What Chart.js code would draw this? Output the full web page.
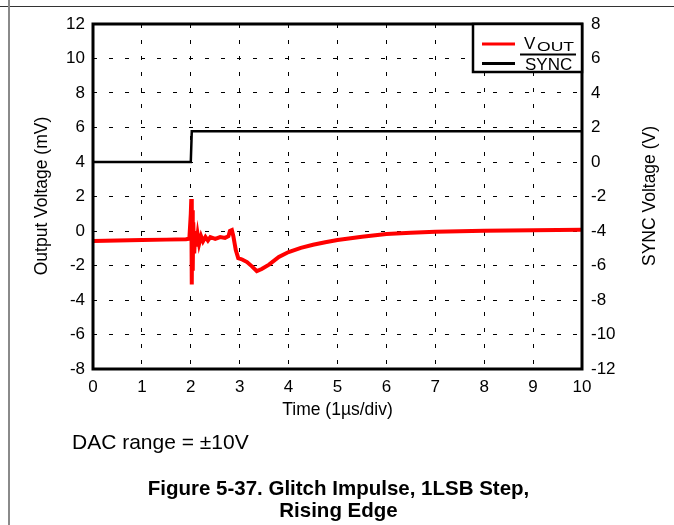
<!DOCTYPE html>
<html>
<head>
<meta charset="utf-8">
<script src="https://cdn.jsdelivr.net/npm/chart.js@4/dist/chart.umd.min.js"></script>
<style>
  body { margin: 0; background: #fff; }
  #wrap { position: relative; width: 674px; height: 525px; }
  #hline { position: absolute; left: 0; top: 6px; width: 674px; height: 1px; background: #333; }
  #vline { position: absolute; left: 8px; top: 0; width: 2px; height: 525px; background: #8a8a8a; }
  canvas { position: absolute; left: 0; top: 0; }
</style>
</head>
<body>
<div id="wrap">
  <div id="hline"></div>
  <div id="vline"></div>
  <canvas id="chart" width="674" height="525"></canvas>
</div>
<script>
// time in us
const voutTime = [0, 0.5, 1.0, 1.5, 1.9, 1.97, 2.0, 2.01, 2.02, 2.03, 2.04, 2.05, 2.07, 2.09, 2.11,
  2.14, 2.17, 2.21, 2.25, 2.3, 2.35, 2.4, 2.5, 2.6, 2.7, 2.77, 2.8, 2.84, 2.87, 2.92,
  2.97, 3.05, 3.15, 3.25, 3.35, 3.45, 3.6, 3.8, 4.0, 4.25, 4.5, 4.75, 5.0, 5.5, 6.0,
  6.5, 7.0, 7.5, 8.0, 8.5, 9.0, 9.5, 10.0];
// output voltage in mV
const voutMv = [-0.58, -0.55, -0.52, -0.5, -0.48, -0.45, 1.0, 1.85, -3.1, 1.2, -2.3, 0.5, -1.3, 0.0, -0.9,
  -0.2, -0.75, -0.3, -0.6, -0.35, -0.55, -0.35, -0.45, -0.35, -0.4, -0.3, 0.0, 0.05, -0.3, -1.1,
  -1.57, -1.65, -1.8, -2.05, -2.33, -2.2, -1.95, -1.5, -1.22, -0.98, -0.8, -0.65, -0.52, -0.33, -0.18,
  -0.1, -0.05, -0.01, 0.02, 0.03, 0.05, 0.06, 0.07];

const syncTime = [0, 2.0, 2.02, 10];
const syncV = [0, 0, 1.78, 1.78];

const xTicks = [0, 1, 2, 3, 4, 5, 6, 7, 8, 9, 10];
const leftTicks = [-8, -6, -4, -2, 0, 2, 4, 6, 8, 10, 12];
const rightTicks = [-12, -10, -8, -6, -4, -2, 0, 2, 4, 6, 8];

const FONT = '"Liberation Sans", Arial, sans-serif';

const extras = {
  id: 'extras',
  afterDatasetsDraw(chart) {
    const ctx = chart.ctx;
    const a = chart.chartArea;
    ctx.save();
    // plot frame
    ctx.lineWidth = 3;
    ctx.strokeStyle = '#000';
    ctx.strokeRect(a.left, a.top, a.right - a.left, a.bottom - a.top);

    // legend box
    const bx = a.right - 109, by = a.top;
    ctx.fillStyle = '#fff';
    ctx.fillRect(bx, by, 109, 48);
    ctx.lineWidth = 2.5;
    ctx.strokeRect(bx, by, 109, 48);
    ctx.lineWidth = 3;
    ctx.strokeStyle = '#ff0000';
    ctx.beginPath(); ctx.moveTo(a.right - 100, a.top + 20); ctx.lineTo(a.right - 67, a.top + 20); ctx.stroke();
    ctx.strokeStyle = '#000';
    ctx.beginPath(); ctx.moveTo(a.right - 100, a.top + 39.5); ctx.lineTo(a.right - 67, a.top + 39.5); ctx.stroke();

    ctx.fillStyle = '#000';
    ctx.textBaseline = 'alphabetic';
    ctx.textAlign = 'left';
    ctx.font = '17px ' + FONT;
    ctx.fillText('V', a.right - 58, a.top + 25);
    ctx.save();
    ctx.translate(a.right - 45, a.top + 27);
    ctx.scale(1.35, 1);
    ctx.font = '13px ' + FONT;
    ctx.fillText('OUT', 0, 0);
    ctx.restore();
    ctx.lineWidth = 2;
    ctx.beginPath(); ctx.moveTo(a.right - 62, a.top + 30.5); ctx.lineTo(a.right - 6, a.top + 30.5); ctx.stroke();
    ctx.font = '17px ' + FONT;
    ctx.fillText('SYNC', a.right - 57, a.top + 46);
    ctx.restore();
  },
  afterDraw(chart) {
    const ctx = chart.ctx;
    const a = chart.chartArea;
    ctx.save();
    ctx.fillStyle = '#000';
    ctx.textAlign = 'center';
    ctx.textBaseline = 'middle';
    ctx.font = '17.5px ' + FONT;
    // axis titles
    ctx.save();
    ctx.translate(42, 196);
    ctx.rotate(-Math.PI / 2);
    ctx.fillText('Output Voltage (mV)', 0, 0);
    ctx.restore();
    ctx.save();
    ctx.translate(650, 196);
    ctx.rotate(-Math.PI / 2);
    ctx.fillText('SYNC Voltage (V)', 0, 0);
    ctx.restore();
    ctx.textBaseline = 'alphabetic';
    ctx.fillText('Time (1\u00b5s/div)', (a.left + a.right) / 2, 415);

    // notes and caption
    ctx.textAlign = 'left';
    ctx.font = '21px ' + FONT;
    ctx.fillText('DAC range = \u00b110V', 72, 449);
    ctx.textAlign = 'center';
    ctx.font = 'bold 20.5px ' + FONT;
    ctx.fillText('Figure 5-37. Glitch Impulse, 1LSB Step,', 338.5, 495);
    ctx.fillText('Rising Edge', 338.5, 517);
    ctx.restore();
  }
};

const tickFont = { size: 17, family: FONT };

new Chart(document.getElementById('chart'), {
  type: 'line',
  data: {
    datasets: [
      {
        label: 'VOUT',
        data: voutTime.map((t, i) => ({ x: t, y: voutMv[i] })),
        borderColor: '#ff0000',
        borderWidth: 4,
        pointRadius: 0,
        tension: 0,
        yAxisID: 'y'
      },
      {
        label: 'SYNC',
        data: syncTime.map((t, i) => ({ x: t, y: syncV[i] })),
        borderColor: '#000',
        borderWidth: 2.5,
        pointRadius: 0,
        tension: 0,
        yAxisID: 'y1'
      }
    ]
  },
  options: {
    responsive: false,
    animation: false,
    layout: { padding: { left: 0, right: 0, top: 24, bottom: 0 } },
    plugins: { legend: { display: false }, tooltip: { enabled: false } },
    scales: {
      x: {
        type: 'linear', min: 0, max: 10,
        afterBuildTicks: s => { s.ticks = xTicks.map(v => ({ value: v })); },
        afterFit: s => { s.height = 156; },
        grid: { color: '#000', lineWidth: 1, drawTicks: false },
        border: { display: false, dash: [4, 12] },
        ticks: { color: '#000', font: tickFont, padding: 8, maxRotation: 0, callback: v => String(v) }
      },
      y: {
        type: 'linear', position: 'left', min: -8, max: 12,
        afterBuildTicks: s => { s.ticks = leftTicks.map(v => ({ value: v })); },
        afterFit: s => { s.width = 93; },
        grid: { color: '#000', lineWidth: 1, drawTicks: false },
        border: { display: false, dash: [4, 12] },
        ticks: { color: '#000', font: tickFont, padding: 8, callback: v => String(v) }
      },
      y1: {
        type: 'linear', position: 'right', min: -12, max: 8,
        afterBuildTicks: s => { s.ticks = rightTicks.map(v => ({ value: v })); },
        afterFit: s => { s.width = 92; },
        grid: { drawOnChartArea: false, drawTicks: false },
        border: { display: false },
        ticks: { color: '#000', font: tickFont, padding: 9, callback: v => String(v) }
      }
    }
  },
  plugins: [extras]
});
</script>
</body>
</html>
